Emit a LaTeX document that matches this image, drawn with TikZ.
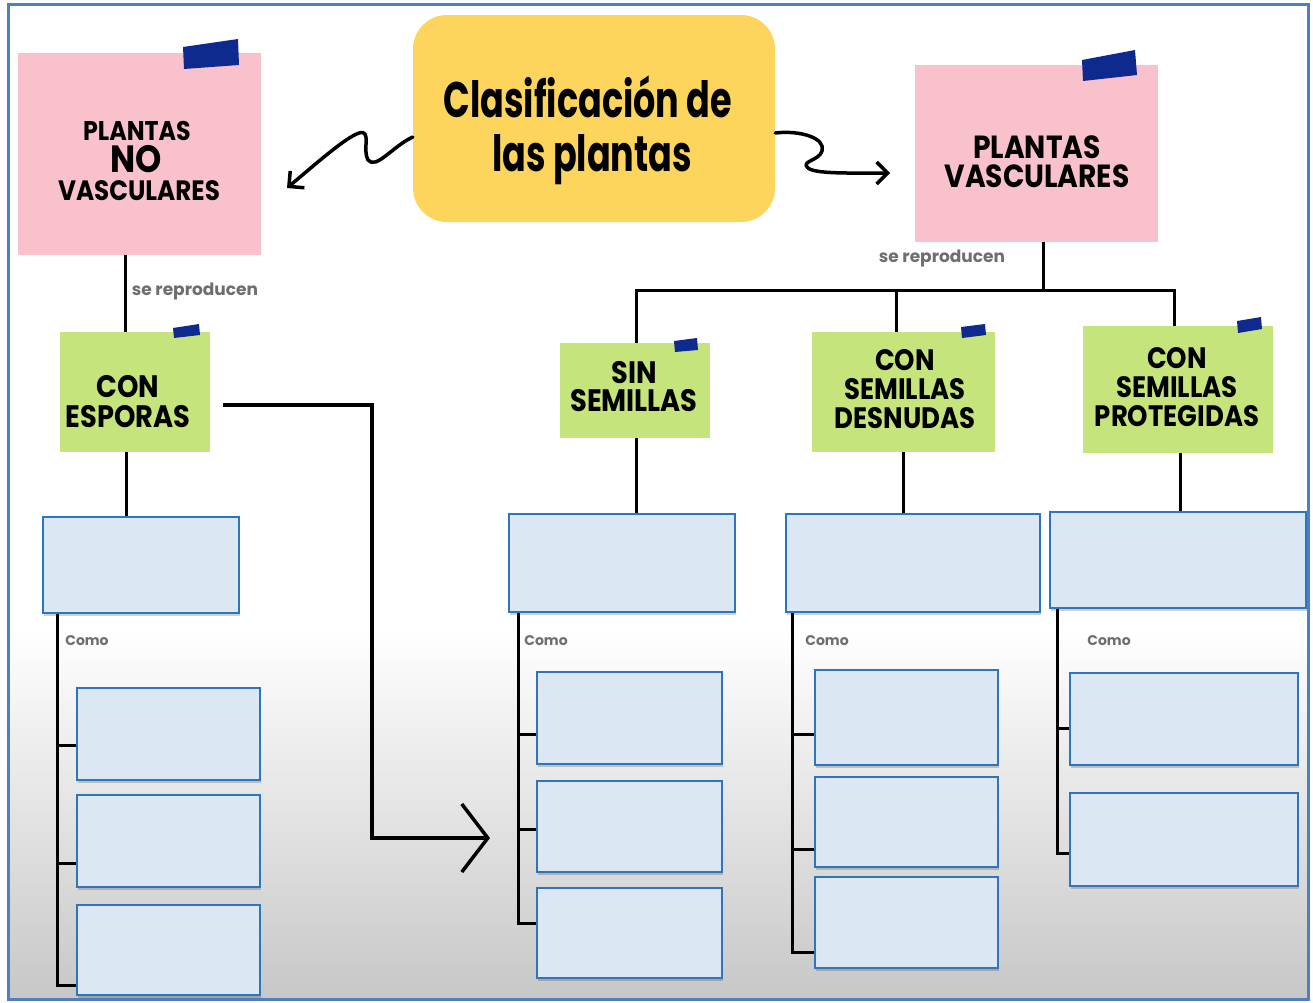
\documentclass[tikz,border=0pt]{standalone}
\usepackage{fontspec}
\setmainfont{Poppins}
\newfontfamily\hfont[FakeStretch=0.88]{Poppins}
\newfontfamily\tfont[FakeStretch=0.7]{Poppins}
\usetikzlibrary{arrows.meta,shadows}
\definecolor{framec}{HTML}{4F7FBE}
\definecolor{pinkc}{HTML}{F8C1CB}
\definecolor{yellowc}{HTML}{FDD45C}
\definecolor{greenc}{HTML}{C6E47C}
\definecolor{tapec}{HTML}{0E2A8E}
\definecolor{bluefill}{HTML}{DCE7F4}
\definecolor{blueline}{HTML}{2E75BE}
\definecolor{labelc}{HTML}{6E6E6E}
\tikzset{
  note/.style={draw=none, inner sep=0pt},
  pinknote/.style={note, fill=pinkc},
  greennote/.style={note, fill=greenc},
  ntext/.style={anchor=base, inner sep=0pt, text=black,
    font=\hfont\bfseries\fontsize{31}{31}\selectfont},
  dtext/.style={ntext, font=\hfont\bfseries\fontsize{29.5}{29.5}\selectfont},
  ttext/.style={anchor=base, inner sep=0pt, text=black,
    font=\tfont\bfseries\fontsize{50}{50}\selectfont},
  titlebox/.style={fill=yellowc, rounded corners=34pt, inner sep=0pt},
  emptybox/.style={draw=blueline, line width=1.6pt, fill=bluefill, inner sep=0pt,
    drop shadow={shadow xshift=1pt, shadow yshift=-3pt, fill=black, opacity=0.18}},
  tape/.style={fill=tapec},
  conn/.style={draw=black, line width=3pt},
  squig/.style={draw=black, line width=3.5pt, line cap=round, line join=round,
    -{Straight Barb[length=11pt,width=22pt,line width=3.5pt]}},
  bigarrow/.style={draw=black, line width=3.5pt,
    -{Straight Barb[length=26pt,width=68pt,line width=3.5pt]}},
  lbl/.style={text=labelc, font=\bfseries\fontsize{17}{18}\selectfont, inner sep=0pt},
  como/.style={text=labelc, font=\bfseries\fontsize{14}{15}\selectfont, inner sep=0pt}
}
\begin{document}
\begin{tikzpicture}[x=1pt,y=-1pt]
\useasboundingbox (0,0) rectangle (1313,1002);
% background
\fill[white] (0,0) rectangle (1313,1002);
\shade[top color=white, bottom color=black!22] (8,630) rectangle (1308,1000);
\draw[framec, line width=3pt] (8,4) rectangle (1308,999);

% title
\node[titlebox, minimum width=362pt, minimum height=207pt] (ttl) at (594,118.5) {};
\node[ttext] (ttl1) at (588,117) {Clasificación de};
\node[ttext] (ttl2) at (592,171) {las plantas};

% pink notes
\node[pinknote, minimum width=243pt, minimum height=202pt] (lp) at (139.5,154) {};
\node[ntext, font=\hfont\bfseries\fontsize{27}{27}\selectfont] (lp1) at (137,140) {PLANTAS};
\node[ntext, font=\hfont\bfseries\fontsize{38}{38}\selectfont] (lp2) at (136,172) {NO};
\node[ntext, font=\hfont\bfseries\fontsize{28}{28}\selectfont] (lp3) at (139,200) {VASCULARES};
\node[pinknote, minimum width=243pt, minimum height=177pt] (rp) at (1036.5,153.5) {};
\node[ntext, font=\hfont\bfseries\fontsize{32}{32}\selectfont] (rp1) at (1037,158) {PLANTAS};
\node[ntext, font=\hfont\bfseries\fontsize{32}{32}\selectfont] (rp2) at (1037,187) {VASCULARES};
\fill[tape] (183,47) -- (238,39) -- (239,65) -- (184,69) -- cycle;
\fill[tape] (1082,60) -- (1135,50) -- (1137,75) -- (1083,81) -- cycle;

% green notes
\node[greennote, minimum width=150pt, minimum height=120pt] (esp) at (135,392) {};
\node[ntext] (esp1) at (128,397) {CON};
\node[ntext] (esp2) at (128,427) {ESPORAS};
\node[greennote, minimum width=150pt, minimum height=95pt] (sin) at (635,390.5) {};
\node[ntext] (sin1) at (634,383) {SIN};
\node[ntext] (sin2) at (634,411) {SEMILLAS};
\node[greennote, minimum width=183pt, minimum height=120pt] (des) at (903.5,392) {};
\node[dtext] (des1) at (905,370) {CON};
\node[dtext] (des2) at (905,399) {SEMILLAS};
\node[dtext] (des3) at (905,428) {DESNUDAS};
\node[greennote, minimum width=190pt, minimum height=127pt] (pro) at (1178,389.5) {};
\node[dtext] (pro1) at (1177,368) {CON};
\node[dtext] (pro2) at (1177,397) {SEMILLAS};
\node[dtext] (pro3) at (1177,426) {PROTEGIDAS};
\fill[tape] (173,328) -- (199,324) -- (200,335) -- (174,338) -- cycle;
\fill[tape] (674,341) -- (697,338) -- (698,350) -- (675,352) -- cycle;
\fill[tape] (961,327) -- (985,324) -- (986,335) -- (962,338) -- cycle;
\fill[tape] (1237,321) -- (1261,317) -- (1262,329) -- (1238,333) -- cycle;

% blue boxes, first row
\node[emptybox, minimum width=196pt, minimum height=96pt] (b0) at (141,565) {};
\node[emptybox, minimum width=226pt, minimum height=98pt] (b1) at (622,563) {};
\node[emptybox, minimum width=254pt, minimum height=98pt] (b2) at (913,563) {};
\node[emptybox, minimum width=256pt, minimum height=96pt] (b3) at (1178,560) {};

% left column
\node[emptybox, minimum width=183pt, minimum height=92pt] (l1) at (168.5,734) {};
\node[emptybox, minimum width=183pt, minimum height=92pt] (l2) at (168.5,841) {};
\node[emptybox, minimum width=183pt, minimum height=90pt] (l3) at (168.5,950) {};
% sin column
\node[emptybox, minimum width=185pt, minimum height=92pt] (s1) at (629.5,718) {};
\node[emptybox, minimum width=185pt, minimum height=91pt] (s2) at (629.5,826.5) {};
\node[emptybox, minimum width=185pt, minimum height=90pt] (s3) at (629.5,933) {};
% desnudas column
\node[emptybox, minimum width=183pt, minimum height=95pt] (d1) at (906.5,717.5) {};
\node[emptybox, minimum width=183pt, minimum height=90pt] (d2) at (906.5,822) {};
\node[emptybox, minimum width=183pt, minimum height=91pt] (d3) at (906.5,922.5) {};
% protegidas column
\node[emptybox, minimum width=228pt, minimum height=92pt] (p1) at (1184,719) {};
\node[emptybox, minimum width=228pt, minimum height=93pt] (p2) at (1184,839.5) {};

% labels
\node[lbl] (sr1) at (195,291) {se reproducen};
\node[lbl] (sr2) at (942,258) {se reproducen};
\node[como] (c0) at (87,641) {Como};
\node[como] (c1) at (546,641) {Como};
\node[como] (c2) at (827,641) {Como};
\node[como] (c3) at (1109,641) {Como};

% squiggly arrows
\coordinate (lpTip) at (287,188);
\coordinate (rpTip) at (890,173);
\draw[squig] (ttl.west |- 0,137) .. controls (393,146) and (376,170) .. (368,160)
  .. controls (362,150) and (372,129) .. (359,133)
  .. controls (345,138) and (318,162) .. (lpTip);
\draw[squig] (ttl.east |- 0,133) .. controls (800,130) and (826,138) .. (822,151)
  .. controls (819,161) and (800,161) .. (808,168)
  .. controls (815,174) and (850,173) .. (rpTip);

% tree connectors
\draw[conn] (lp.south -| 125,0) -- (esp.north -| 125,0);
\draw[conn] (rp.south -| 1043,0) -- (1043,290);
\draw[conn] (sin.north -| 636,0) -- (636,290) -- (1174,290) -- (pro.north -| 1174,0);
\draw[conn] (896,290) -- (des.north -| 896,0);

\draw[conn] (esp.south -| 126,0) -- (b0.north -| 126,0);
\draw[conn] (sin.south -| 636,0) -- (b1.north -| 636,0);
\draw[conn] (des.south -| 903,0) -- (b2.north -| 903,0);
\draw[conn] (pro.south -| 1180,0) -- (b3.north -| 1180,0);

% como trunks
\draw[conn] (b0.south -| 57,0) |- (l3.west |- 0,985);
\draw[conn] (57,745) -- (l1.west |- 0,745);
\draw[conn] (57,863) -- (l2.west |- 0,863);

\draw[conn] (b1.south -| 518,0) |- (s3.west |- 0,923);
\draw[conn] (518,734) -- (s1.west |- 0,734);
\draw[conn] (518,829) -- (s2.west |- 0,829);

\draw[conn] (b2.south -| 792,0) |- (d3.west |- 0,952);
\draw[conn] (792,734) -- (d1.west |- 0,734);
\draw[conn] (792,849) -- (d2.west |- 0,849);

\draw[conn] (b3.south -| 1057,0) |- (p2.west |- 0,853);
\draw[conn] (1057,728) -- (p1.west |- 0,728);

% big arrow
\coordinate (bigTip) at (490,838);
\draw[bigarrow] ([xshift=13pt]esp.east |- 0,405) -| (372,838) -- (bigTip);
\end{tikzpicture}
\end{document}
